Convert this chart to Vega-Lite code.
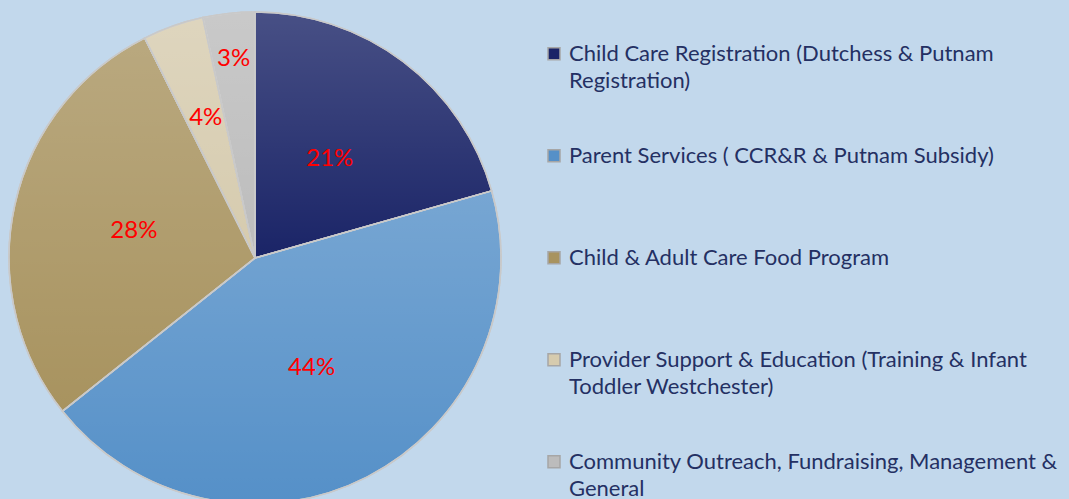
{
  "$schema": "https://vega.github.io/schema/vega-lite/v6.json",
  "width": 510,
  "height": 516,
  "padding": {"left": 0, "top": 0, "right": 120, "bottom": 0},
  "autosize": {"type": "pad"},
  "background": "#c2d8ec",
  "config": {
    "view": {"stroke": null},
    "style": {"guide-label": {"lineHeight": 27}}
  },
  "data": {
    "values": [
      {"category": "Child Care Registration (Dutchess & Putnam Registration)", "value": 0.206, "order": 1},
      {"category": "Parent Services ( CCR&R & Putnam Subsidy)", "value": 0.437, "order": 2},
      {"category": "Child & Adult Care Food Program", "value": 0.283, "order": 3},
      {"category": "Provider Support & Education (Training & Infant Toddler Westchester)", "value": 0.04, "order": 4},
      {"category": "Community Outreach, Fundraising, Management & General", "value": 0.034, "order": 5}
    ]
  },
  "encoding": {
    "theta": {"field": "value", "type": "quantitative", "stack": true},
    "order": {"field": "order", "type": "quantitative"}
  },
  "layer": [
    {
      "mark": {"type": "arc", "radius": 246, "stroke": "#c9c9c9", "strokeWidth": 1.5},
      "encoding": {
        "color": {
          "field": "category",
          "type": "nominal",
          "sort": null,
          "scale": {
            "domain": [
              "Child Care Registration (Dutchess & Putnam Registration)",
              "Parent Services ( CCR&R & Putnam Subsidy)",
              "Child & Adult Care Food Program",
              "Provider Support & Education (Training & Infant Toddler Westchester)",
              "Community Outreach, Fundraising, Management & General"
            ],
            "range": ["#1a2467", "#5590c8", "#a8935f", "#d6cbae", "#bcbcbc"]
          },
          "legend": {
            "orient": "none",
            "legendX": 543,
            "legendY": 3,
            "title": null,
            "symbolType": "square",
            "symbolSize": 144,
            "symbolStrokeColor": "#a6a6a6",
            "symbolStrokeWidth": 1.5,
            "labelFont": "Lato",
            "labelFontSize": 22,
            "labelColor": "#243063",
            "labelLimit": 700,
            "clipHeight": 101.5,
            "rowPadding": 0,
            "labelOffset": 4,
            "labelExpr": "datum.label == 'Child Care Registration (Dutchess & Putnam Registration)' ? ['Child Care Registration (Dutchess & Putnam', 'Registration)'] : datum.label == 'Provider Support & Education (Training & Infant Toddler Westchester)' ? ['Provider Support & Education (Training & Infant', 'Toddler Westchester)'] : datum.label == 'Community Outreach, Fundraising, Management & General' ? ['Community Outreach, Fundraising, Management &', 'General'] : datum.label"
          }
        }
      }
    },
    {
      "mark": {
        "type": "arc",
        "radius": 246,
        "stroke": "#c9c9c9",
        "strokeWidth": 1.5,
        "fill": {
          "gradient": "linear",
          "x1": 0, "y1": 0, "x2": 0, "y2": 1,
          "stops": [
            {"offset": 0, "color": "rgba(255,255,255,0.2)"},
            {"offset": 1, "color": "rgba(255,255,255,0)"}
          ]
        }
      }
    },
    {
      "mark": {"type": "text", "font": "Lato", "fontSize": 24, "color": "#ff0000"},
      "encoding": {
        "text": {"field": "value", "type": "quantitative", "format": ".0%"},
        "radius": {
          "field": "value",
          "type": "quantitative",
          "scale": {"type": "linear", "domain": [0.034, 0.04, 0.206], "range": [200, 148, 124], "clamp": true, "zero": false},
          "legend": null
        }
      }
    }
  ]
}
